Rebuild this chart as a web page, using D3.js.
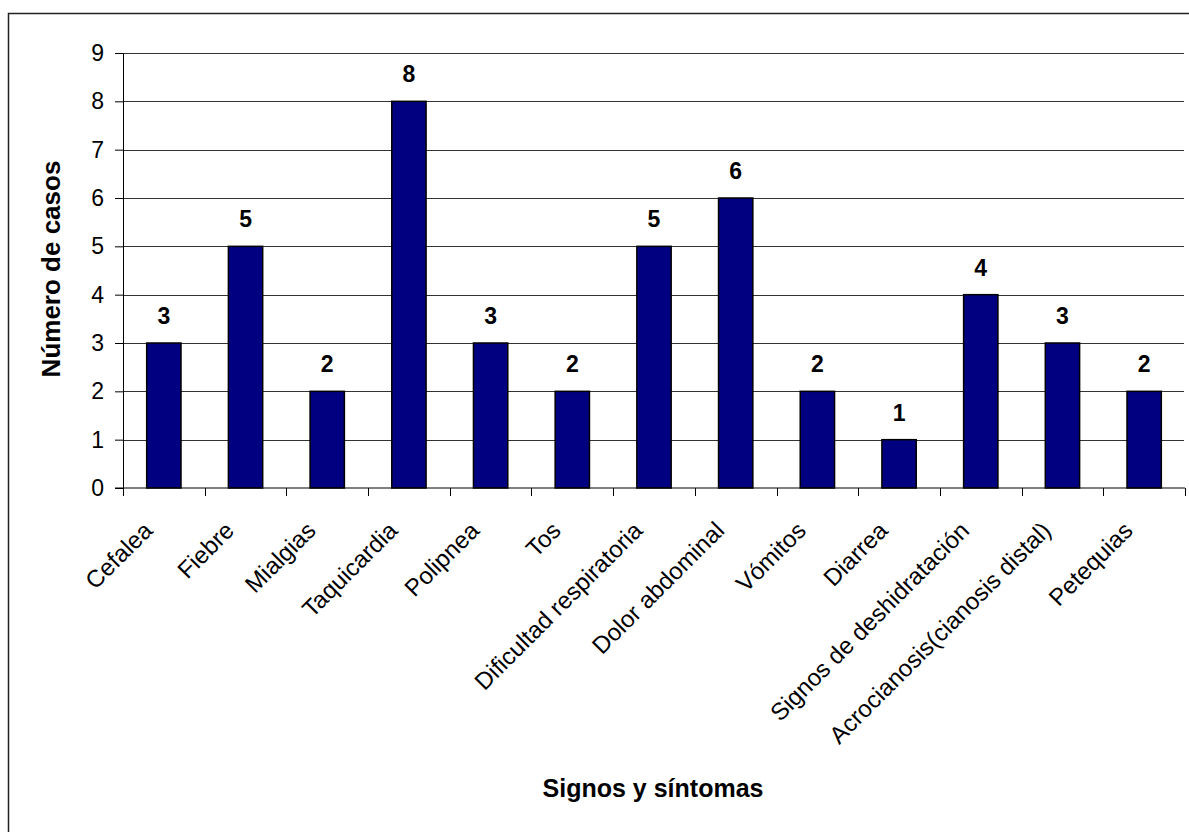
<!DOCTYPE html>
<html>
<head>
<meta charset="utf-8">
<script src="https://cdn.jsdelivr.net/npm/d3@7"></script>
<style>
  body { margin: 0; background: #fff; }
  svg { display: block; font-family: Arial, "Liberation Sans", sans-serif; }
</style>
</head>
<body>
<div id="chart"></div>
<script>
var categories = ['Cefalea', 'Fiebre', 'Mialgias', 'Taquicardia', 'Polipnea', 'Tos',
  'Dificultad respiratoria', 'Dolor abdominal', 'Vómitos', 'Diarrea',
  'Signos de deshidratación', 'Acrocianosis(cianosis distal)', 'Petequias'];
var casos = [3, 5, 2, 8, 3, 2, 5, 6, 2, 1, 4, 3, 2];
var yTicks = [0, 1, 2, 3, 4, 5, 6, 7, 8, 9];

var width = 1189, height = 832;
var margin = { left: 123, right: 4, top: 53, bottom: 344 };

var svg = d3.select('#chart')
  .append('svg')
  .attr('width', width)
  .attr('height', height);

// outer frame (right and bottom edges fall outside the picture)
svg.append('rect')
  .attr('x', 8.5).attr('y', 13.5)
  .attr('width', width).attr('height', height)
  .attr('fill', 'none')
  .attr('stroke', '#222')
  .attr('stroke-width', 1.5);

var x = d3.scaleBand()
  .domain(categories)
  .range([margin.left, width - margin.right]);

var y = d3.scaleLinear()
  .domain([0, 9])
  .range([height - margin.bottom, margin.top]);

// gridlines
svg.append('g')
  .selectAll('line')
  .data(yTicks.slice(1))
  .enter().append('line')
  .attr('x1', margin.left)
  .attr('x2', width - margin.right - 1)
  .attr('y1', function(d) { return Math.round(y(d)) + 0.5; })
  .attr('y2', function(d) { return Math.round(y(d)) + 0.5; })
  .attr('stroke', '#333')
  .attr('stroke-width', 1);

// y axis
var yAxis = svg.append('g')
  .attr('transform', 'translate(' + margin.left + ',0)')
  .call(d3.axisLeft(y).tickValues(yTicks).tickSize(8).tickPadding(11).tickSizeOuter(0));
yAxis.select('.domain').attr('stroke', '#000');
yAxis.selectAll('.tick line').attr('stroke', '#000');
yAxis.selectAll('.tick text')
  .attr('font-size', '23px')
  .attr('fill', '#000')
  .attr('font-family', 'Arial, "Liberation Sans", sans-serif');

// bars
var barW = x.bandwidth() * 0.42;
svg.append('g')
  .selectAll('rect')
  .data(casos)
  .enter().append('rect')
  .attr('x', function(d, i) { return x(categories[i]) + (x.bandwidth() - barW) / 2; })
  .attr('y', function(d) { return y(d); })
  .attr('width', barW)
  .attr('height', function(d) { return y(0) - y(d); })
  .attr('fill', '#000080')
  .attr('stroke', '#000')
  .attr('stroke-width', 1.5);

// x axis line + category ticks at band edges
var xg = svg.append('g');
xg.append('line')
  .attr('x1', margin.left - 8).attr('x2', width - margin.right)
  .attr('y1', y(0)).attr('y2', y(0))
  .attr('stroke', '#000');
xg.selectAll('line.tk')
  .data(categories.concat(['_end']))
  .enter().append('line')
  .attr('class', 'tk')
  .attr('x1', function(d, i) { return Math.round(margin.left + i * x.step()) + 0.5; })
  .attr('x2', function(d, i) { return Math.round(margin.left + i * x.step()) + 0.5; })
  .attr('y1', y(0))
  .attr('y2', y(0) + 8)
  .attr('stroke', '#000');

// category labels, rotated
xg.selectAll('text')
  .data(categories)
  .enter().append('text')
  .attr('transform', function(d) {
    return 'translate(' + (x(d) + x.bandwidth() / 2 - 10) + ',' + (y(0) + 44) + ') rotate(-45)';
  })
  .attr('text-anchor', 'end')
  .attr('font-size', '24px')
  .attr('fill', '#000')
  .text(function(d) { return d; });

// value labels
svg.append('g')
  .selectAll('text')
  .data(casos)
  .enter().append('text')
  .attr('x', function(d, i) { return x(categories[i]) + x.bandwidth() / 2; })
  .attr('y', function(d) { return y(d) - 19; })
  .attr('text-anchor', 'middle')
  .attr('font-size', '23px')
  .attr('font-weight', 'bold')
  .attr('fill', '#000')
  .text(function(d) { return d; });

// axis titles
svg.append('text')
  .attr('transform', 'translate(60,269) rotate(-90)')
  .attr('text-anchor', 'middle')
  .attr('font-size', '26px')
  .attr('font-weight', 'bold')
  .text('Número de casos');

svg.append('text')
  .attr('x', 653)
  .attr('y', 797)
  .attr('text-anchor', 'middle')
  .attr('font-size', '25px')
  .attr('font-weight', 'bold')
  .text('Signos y síntomas');
</script>
</body>
</html>
